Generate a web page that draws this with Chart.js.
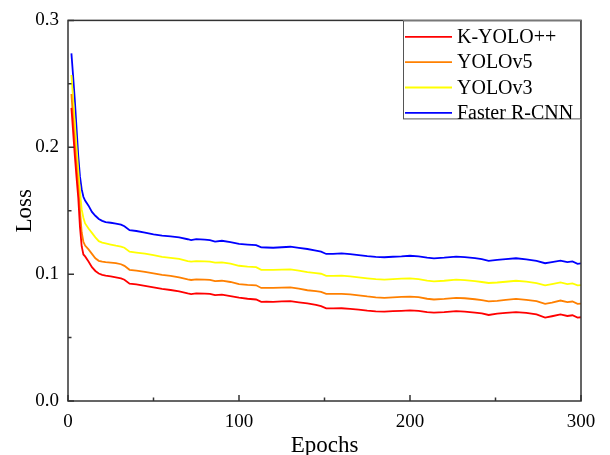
<!DOCTYPE html>
<html>
<head>
<meta charset="utf-8">
<script src="https://cdn.jsdelivr.net/npm/chart.js@4/dist/chart.umd.min.js"></script>
<style>
html,body{margin:0;padding:0;background:#fff;}
canvas{display:block;}
</style>
</head>
<body>
<canvas id="c" width="610" height="455"></canvas>
<script>
const epochs = [2,3,4,5,6,7,8,9,10,
  12,14,16,18,20,22,25,28,31,33,36,
  40,45,50,55,60,65,70,72,75,80,
  83,86,90,95,100,105,110,113,116,120,
  125,130,135,140,145,148,151,155,160,165,
  170,175,180,185,190,195,200,205,210,214,
  220,227,232,238,242,246,251,256,262,268,
  274,279,283,288,292,295,298,300];

const kyolo = [0.231,0.212,0.193,0.176,0.160,0.137,0.122,0.1155,0.114,
  0.110,0.1055,0.1025,0.1005,0.0995,0.0988,0.0982,0.0974,0.0966,0.0956,0.0925,
  0.0920,0.0908,0.0895,0.0883,0.0875,0.0865,0.0848,0.0843,0.0848,0.0846,
  0.0844,0.0834,0.0838,0.0827,0.0814,0.0806,0.0800,0.0782,0.0783,0.0782,
  0.0785,0.0787,0.0778,0.0769,0.0757,0.0748,0.0730,0.0730,0.0731,0.0726,
  0.0721,0.0713,0.0707,0.0704,0.0708,0.0711,0.0715,0.0710,0.0700,0.0696,
  0.0700,0.0709,0.0705,0.0697,0.0690,0.0678,0.0688,0.0694,0.0701,0.0694,
  0.0683,0.0657,0.0668,0.0683,0.0670,0.0676,0.0657,0.0660];

const yolov5 = [0.242,0.222,0.203,0.185,0.168,0.150,0.133,0.1255,0.1225,
  0.1195,0.116,0.1125,0.1105,0.1098,0.1094,0.109,0.1086,0.1078,0.1065,0.1034,
  0.1028,0.1017,0.1006,0.0995,0.0986,0.0974,0.0958,0.0954,0.0958,0.0957,
  0.0955,0.0945,0.0948,0.0938,0.0922,0.0916,0.0912,0.0891,0.0892,0.0891,
  0.0894,0.0896,0.0885,0.0873,0.0866,0.0860,0.0844,0.0844,0.0845,0.0840,
  0.0833,0.0824,0.0817,0.0813,0.0817,0.0821,0.0823,0.0818,0.0806,0.0800,
  0.0805,0.0813,0.0810,0.0802,0.0795,0.0785,0.0790,0.0797,0.0805,0.0797,
  0.0787,0.0766,0.0776,0.0792,0.0779,0.0784,0.0766,0.0768];

const yolov3 = [0.257,0.238,0.219,0.200,0.182,0.165,0.151,0.1445,0.140,
  0.136,0.1325,0.129,0.126,0.1248,0.1242,0.1233,0.1224,0.1216,0.1208,0.1177,
  0.1170,0.1161,0.1150,0.1136,0.1128,0.1120,0.1102,0.1098,0.1102,0.1100,
  0.1099,0.1090,0.1092,0.1082,0.1066,0.1059,0.1055,0.1034,0.1034,0.1033,
  0.1036,0.1038,0.1028,0.1016,0.1008,0.1003,0.0987,0.0987,0.0988,0.0982,
  0.0975,0.0967,0.0960,0.0956,0.0960,0.0965,0.0966,0.0960,0.0948,0.0943,
  0.0948,0.0956,0.0953,0.0945,0.0938,0.0930,0.0934,0.0940,0.0948,0.0941,
  0.0930,0.0912,0.0922,0.0935,0.0922,0.0927,0.0912,0.0913];

const fasterRcnn = [0.274,0.256,0.237,0.215,0.193,0.177,0.167,0.161,0.158,
  0.154,0.149,0.146,0.1435,0.142,0.141,0.1405,0.1398,0.139,0.1377,0.1346,
  0.1340,0.1328,0.1314,0.1303,0.1297,0.1289,0.1275,0.1268,0.1276,0.1272,
  0.1268,0.1256,0.1263,0.1252,0.1238,0.1233,0.1229,0.1211,0.1210,0.1208,
  0.1212,0.1216,0.1207,0.1198,0.1186,0.1177,0.1159,0.1160,0.1164,0.1157,
  0.1150,0.1142,0.1136,0.1133,0.1137,0.1140,0.1145,0.1140,0.1130,0.1125,
  0.1130,0.1138,0.1134,0.1126,0.1118,0.1104,0.1112,0.1118,0.1125,0.1117,
  0.1104,0.1086,0.1095,0.1107,0.1094,0.1100,0.1081,0.1085];

const seriesNames = ['K-YOLO++','YOLOv5','YOLOv3','Faster R-CNN'];
const seriesColors = ['#ff0000','#ff8000','#ffff00','#0000ff'];
const seriesValues = [kyolo, yolov5, yolov3, fasterRcnn];

const FONT = '"Liberation Serif","Times New Roman",serif';
const AXIS = '#333333';

const datasets = seriesValues.map((vals, i) => ({
  label: seriesNames[i],
  data: epochs.map((e, j) => ({x: e, y: vals[j]})),
  borderColor: seriesColors[i],
  backgroundColor: seriesColors[i],
  borderWidth: 1.8,
  pointRadius: 0,
  tension: 0,
  fill: false
}));

const framePlugin = {
  id: 'frame',
  afterDatasetsDraw(chart) {
    const {ctx, chartArea: a, scales: {x, y}} = chart;
    ctx.save();
    ctx.strokeStyle = AXIS;
    ctx.lineWidth = 1.5;
    ctx.beginPath();
    for (let v = 0; v <= 300; v += 50) {
      const px = x.getPixelForValue(v);
      const len = (v % 100 === 0) ? 6 : 3.5;
      ctx.moveTo(px, a.bottom); ctx.lineTo(px, a.bottom - len);
    }
    for (let k = 0; k <= 6; k++) {
      const py = y.getPixelForValue(k * 0.05);
      const len = (k % 2 === 0) ? 6 : 3.5;
      ctx.moveTo(a.left, py); ctx.lineTo(a.left + len, py);
    }
    ctx.stroke();
    ctx.strokeRect(a.left, a.top, a.right - a.left, a.bottom - a.top);
    // legend
    const lx = 403, ly = a.top, lw = a.right - 403, lh = 99;
    ctx.fillStyle = '#fff';
    ctx.fillRect(lx, ly, lw, lh);
    ctx.lineWidth = 1;
    ctx.strokeStyle = '#555';
    ctx.strokeRect(lx + 0.5, ly + 0.5, lw - 1, lh - 1);
    ctx.font = '20px ' + FONT;
    ctx.textBaseline = 'middle';
    ctx.textAlign = 'left';
    chart.data.datasets.forEach((ds, i) => {
      const cy = ly + 16.5 + i * 25.3;
      ctx.strokeStyle = ds.borderColor;
      ctx.lineWidth = 1.8;
      ctx.beginPath();
      ctx.moveTo(lx + 2, cy); ctx.lineTo(lx + 49, cy);
      ctx.stroke();
      ctx.fillStyle = '#000';
      ctx.fillText(ds.label, lx + 54, cy + 1);
    });
    ctx.restore();
  }
};

new Chart(document.getElementById('c'), {
  type: 'line',
  data: { datasets },
  options: {
    responsive: false,
    animation: false,
    layout: { padding: { left: 0, top: 16, right: 29, bottom: 0 } },
    plugins: { legend: { display: false }, tooltip: { enabled: false } },
    scales: {
      x: {
        type: 'linear', min: 0, max: 300,
        grid: { display: false, drawTicks: false },
        border: { display: false },
        ticks: { stepSize: 100, padding: 10, color: '#000', font: { family: FONT, size: 19 }, maxRotation: 0 },
        title: { display: true, text: 'Epochs', color: '#000', font: { family: FONT, size: 23, lineHeight: 0.8 }, padding: { top: 0, bottom: 0 } },
        afterFit(s) { s.height = 54; }
      },
      y: {
        type: 'linear', min: 0, max: 0.3,
        grid: { display: false, drawTicks: false },
        border: { display: false },
        ticks: { stepSize: 0.1, padding: 9, color: '#000', font: { family: FONT, size: 19 }, callback: v => v.toFixed(1) },
        title: { display: true, text: 'Loss', color: '#000', font: { family: FONT, size: 23, lineHeight: 1 }, padding: { top: 13, bottom: 0 } },
        afterFit(s) { s.width = 68; }
      }
    }
  },
  plugins: [framePlugin]
});
</script>
</body>
</html>
